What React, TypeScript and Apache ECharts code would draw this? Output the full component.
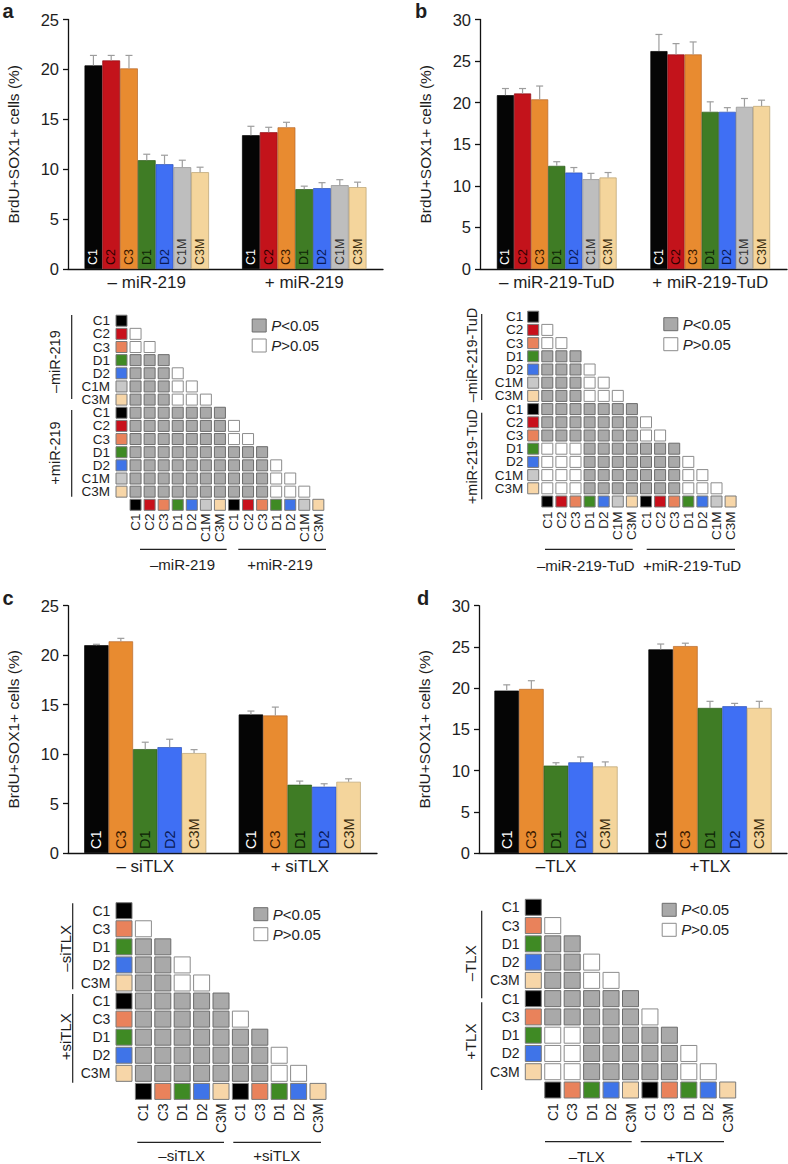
import React, { useEffect, useRef } from 'react';
import * as echarts from 'echarts';

const FONT = '"Liberation Sans", Arial, Helvetica, sans-serif';

// ---------- sample styling ----------
const ALL_SAMPLES = ['C1', 'C2', 'C3', 'D1', 'D2', 'C1M', 'C3M'];
const BAR_COLORS: Record<string, string> = { C1: '#050505', C2: '#c3131b', C3: '#e88b30', D1: '#3f7c25', D2: '#3f6ff4', C1M: '#bebebe', C3M: '#f4d59c' };
const BAR_BORDERS: Record<string, string> = { C1: '#000000', C2: '#8d0c12', C3: '#b8692a', D1: '#2d5a1a', D2: '#2c52b8', C1M: '#8e8e8e', C3M: '#b9a070' };
const BAR_TEXT: Record<string, string> = { C1: '#ffffff', C2: '#2e0000', C3: '#3a1800', D1: '#0d2306', D2: '#0a1a55', C1M: '#333333', C3M: '#3c2e10' };
const SWATCH_COLORS = ['#000000', '#c8101b', '#e9825b', '#3f8a24', '#3f74e8', '#c8c8c8', '#f7d6a8'];

// ---------- panel a ----------
const aSamples = ['C1', 'C2', 'C3', 'D1', 'D2', 'C1M', 'C3M'];
const aGroups = ['– miR-219', '+ miR-219'];
const aMinus = [20.4, 20.9, 20.1, 10.9, 10.5, 10.2, 9.7];
const aMinusErr = [1.0, 0.5, 1.3, 0.6, 0.9, 0.7, 0.5];
const aPlus = [13.4, 13.7, 14.2, 8.0, 8.1, 8.4, 8.2];
const aPlusErr = [0.9, 0.5, 0.5, 0.3, 0.55, 0.55, 0.5];

// ---------- panel b ----------
const bSamples = ['C1', 'C2', 'C3', 'D1', 'D2', 'C1M', 'C3M'];
const bGroups = ['– miR-219-TuD', '+ miR-219-TuD'];
const bMinus = [20.9, 21.1, 20.4, 12.4, 11.6, 10.8, 11.0];
const bMinusErr = [0.8, 0.6, 1.6, 0.5, 0.6, 0.7, 0.6];
const bPlus = [26.2, 25.8, 25.8, 18.9, 18.9, 19.5, 19.6];
const bPlusErr = [2.0, 1.3, 1.5, 1.2, 0.5, 1.0, 0.7];

// ---------- panel c ----------
const cSamples = ['C1', 'C3', 'D1', 'D2', 'C3M'];
const cGroups = ['– siTLX', '+ siTLX'];
const cMinus = [21.0, 21.4, 10.5, 10.7, 10.1];
const cMinusErr = [0.1, 0.3, 0.7, 0.8, 0.35];
const cPlus = [14.0, 13.9, 6.9, 6.7, 7.2];
const cPlusErr = [0.35, 0.85, 0.37, 0.3, 0.3];

// ---------- panel d ----------
const dSamples = ['C1', 'C3', 'D1', 'D2', 'C3M'];
const dGroups = ['–TLX', '+TLX'];
const dMinus = [19.7, 19.9, 10.6, 11.0, 10.5];
const dMinusErr = [0.7, 1.0, 0.35, 0.65, 0.55];
const dPlus = [24.7, 25.1, 17.6, 17.8, 17.6];
const dPlusErr = [0.65, 0.35, 0.8, 0.35, 0.8];

// ---------- significance matrices (1 = P<0.05, 0 = P>0.05) ----------
const abLabels = ['C1', 'C2', 'C3', 'D1', 'D2', 'C1M', 'C3M', 'C1', 'C2', 'C3', 'D1', 'D2', 'C1M', 'C3M'];
const aSig = [
  [],
  [0],
  [0, 0],
  [1, 1, 1],
  [1, 1, 1, 0],
  [1, 1, 1, 0, 0],
  [1, 1, 1, 0, 0, 0],
  [1, 1, 1, 1, 1, 1, 1],
  [1, 1, 1, 1, 1, 1, 1, 0],
  [1, 1, 1, 1, 1, 1, 1, 0, 0],
  [1, 1, 1, 1, 1, 1, 1, 1, 1, 1],
  [1, 1, 1, 1, 1, 1, 1, 1, 1, 1, 0],
  [1, 1, 1, 1, 1, 1, 1, 1, 1, 1, 0, 0],
  [1, 1, 1, 1, 1, 1, 1, 1, 1, 1, 0, 0, 0],
];
const bSig = [
  [],
  [0],
  [0, 0],
  [1, 1, 1],
  [1, 1, 1, 0],
  [1, 1, 1, 0, 0],
  [1, 1, 1, 0, 0, 0],
  [1, 1, 1, 1, 1, 1, 1],
  [1, 1, 1, 1, 1, 1, 1, 0],
  [1, 1, 1, 1, 1, 1, 1, 0, 0],
  [0, 0, 0, 1, 1, 1, 1, 1, 1, 1],
  [0, 0, 0, 1, 1, 1, 1, 1, 1, 1, 0],
  [0, 0, 0, 1, 1, 1, 1, 1, 1, 1, 0, 0],
  [0, 0, 0, 1, 1, 1, 1, 1, 1, 1, 0, 0, 0],
];
const cdLabels = ['C1', 'C3', 'D1', 'D2', 'C3M', 'C1', 'C3', 'D1', 'D2', 'C3M'];
const cSig = [
  [],
  [0],
  [1, 1],
  [1, 1, 0],
  [1, 1, 0, 0],
  [1, 1, 1, 1, 1],
  [1, 1, 1, 1, 1, 0],
  [1, 1, 1, 1, 1, 1, 1],
  [1, 1, 1, 1, 1, 1, 1, 0],
  [1, 1, 1, 1, 1, 1, 1, 0, 0],
];
const dSig = [
  [],
  [0],
  [1, 1],
  [1, 1, 0],
  [1, 1, 0, 0],
  [1, 1, 1, 1, 1],
  [1, 1, 1, 1, 1, 0],
  [0, 0, 1, 1, 1, 1, 1],
  [0, 0, 1, 1, 1, 1, 1, 0],
  [0, 0, 1, 1, 1, 1, 1, 0, 0],
];

const Y_NAME = 'BrdU+SOX1+ cells (%)';
const TXT = '#1e1e1e';

function barPanel(gi: number, cfg: any) {
  const { left, top, width, height, max, groups, samples, minus, minusErr, plus, plusErr, labelSize, gap } = cfg;
  const n = samples.length;
  const gapFrac = gap / 100;
  const grid = { left, top, width, height };
  const xAxis = {
    type: 'category', gridIndex: gi, data: groups,
    axisLine: { lineStyle: { color: '#111', width: 1.3 } },
    axisTick: { length: 7, lineStyle: { color: '#111', width: 1.3 } },
    axisLabel: { fontSize: 17, color: TXT, margin: 5, fontFamily: FONT },
  };
  const yAxis = {
    type: 'value', gridIndex: gi, min: 0, max, interval: 5,
    axisLine: { show: true, lineStyle: { color: '#111', width: 1.3 } },
    axisTick: { show: true, length: 5, lineStyle: { color: '#111', width: 1.3 } },
    splitLine: { show: false },
    axisLabel: { fontSize: 16.5, color: TXT, margin: 9, fontFamily: FONT },
    name: Y_NAME, nameLocation: 'middle', nameGap: 47,
    nameTextStyle: { fontSize: 15.5, color: TXT, fontFamily: FONT },
  };
  const series: any[] = samples.map((s: string, k: number) => ({
    type: 'bar', name: s, xAxisIndex: gi, yAxisIndex: gi,
    data: [minus[k], plus[k]],
    barGap: '0%', barCategoryGap: gap + '%',
    itemStyle: { color: BAR_COLORS[s], borderColor: BAR_BORDERS[s], borderWidth: 0.7 },
    label: {
      show: true, position: 'insideBottom', rotate: 90, align: 'left', verticalAlign: 'middle',
      distance: 4, formatter: s, color: BAR_TEXT[s], fontSize: labelSize, fontFamily: FONT,
    },
  }));
  const errData: number[][] = [];
  samples.forEach((_s: string, k: number) => {
    errData.push([0, minus[k], minusErr[k], k]);
    errData.push([1, plus[k], plusErr[k], k]);
  });
  series.push({
    type: 'custom', name: 'err' + gi, xAxisIndex: gi, yAxisIndex: gi, z: 5,
    data: errData,
    renderItem: (_p: any, api: any) => {
      const cat = api.value(0), mean = api.value(1), err = api.value(2), k = api.value(3);
      const p0 = api.coord([cat, mean]);
      const p1 = api.coord([cat, mean + err]);
      const band = api.size([1, 0])[0];
      const gw = band * (1 - gapFrac);
      const bw = gw / n;
      const x = p0[0] - gw / 2 + (k + 0.5) * bw;
      const st = { stroke: '#9d9d9d', lineWidth: 1.2 };
      return {
        type: 'group', children: [
          { type: 'line', shape: { x1: x, y1: p0[1], x2: x, y2: p1[1] }, style: st },
          { type: 'line', shape: { x1: x - 3.5, y1: p1[1], x2: x + 3.5, y2: p1[1] }, style: st },
        ],
      };
    },
  });
  return { grid, xAxis, yAxis, series };
}

function matrixPanel(gi: number, cfg: any) {
  const { labels, sig, cx0, px, cy0, py, cell, xMargin, yMargin, fontSize } = cfg;
  const N = labels.length;
  const grid = { left: cx0 - px / 2, top: cy0 - py / 2, width: (N + 1) * px, height: (N + 1) * py };
  const xAxis = {
    type: 'category', gridIndex: gi, data: ['', ...labels],
    axisLine: { show: false }, axisTick: { show: false }, splitLine: { show: false },
    axisLabel: { interval: 0, rotate: 90, margin: xMargin, fontSize, color: TXT, fontFamily: FONT },
  };
  const yAxis = {
    type: 'category', gridIndex: gi, inverse: true, data: [...labels, ''],
    axisLine: { show: false }, axisTick: { show: false }, splitLine: { show: false },
    axisLabel: { interval: 0, margin: yMargin, fontSize, color: TXT, fontFamily: FONT },
  };
  const grey: number[][] = [];
  const white: number[][] = [];
  sig.forEach((row: number[], r: number) => row.forEach((v, c) => (v ? grey : white).push([c + 1, r])));
  const sw: number[][] = [];
  labels.forEach((l: string, r: number) => sw.push([0, r, ALL_SAMPLES.indexOf(l)]));
  labels.forEach((l: string, c: number) => sw.push([c + 1, N, ALL_SAMPLES.indexOf(l)]));
  const cellItem = (fill: string | null, stroke: string) => (_p: any, api: any) => {
    const p = api.coord([api.value(0), api.value(1)]);
    const f = fill ?? SWATCH_COLORS[api.value(2)];
    return {
      type: 'rect',
      shape: { x: p[0] - cell / 2, y: p[1] - cell / 2, width: cell, height: cell },
      style: { fill: f, stroke, lineWidth: 1 },
    };
  };
  const series = [
    { type: 'custom', name: 'P<0.05', xAxisIndex: gi, yAxisIndex: gi, data: grey,
      itemStyle: { color: '#a9a9a9' }, renderItem: cellItem('#a9a9a9', '#6c6c6c') },
    { type: 'custom', name: 'P>0.05', xAxisIndex: gi, yAxisIndex: gi, data: white,
      itemStyle: { color: '#ffffff' }, renderItem: cellItem('#ffffff', '#8c8c8c') },
    { type: 'custom', name: 'swatch' + gi, xAxisIndex: gi, yAxisIndex: gi, data: sw,
      renderItem: cellItem(null, '#7a7a7a') },
  ];
  return { grid, xAxis, yAxis, series };
}

function legendAt(left: number, top: number) {
  return {
    left, top, orient: 'vertical', padding: 0, itemGap: 5, itemWidth: 14, itemHeight: 13,
    icon: 'rect', selectedMode: false,
    data: [
      { name: 'P<0.05', itemStyle: { color: '#a9a9a9', borderColor: '#6c6c6c', borderWidth: 1 } },
      { name: 'P>0.05', itemStyle: { color: '#ffffff', borderColor: '#8c8c8c', borderWidth: 1 } },
    ],
    formatter: (name: string) => '{i|P}' + name.slice(1),
    textStyle: {
      fontSize: 15, color: TXT, fontFamily: FONT,
      rich: { i: { fontStyle: 'italic', fontSize: 15, color: TXT, fontFamily: FONT } },
    },
  };
}

function vline(x: number, y1: number, y2: number) {
  return { type: 'line', shape: { x1: x, y1, x2: x, y2 }, style: { stroke: '#222', lineWidth: 1.2 } };
}
function hline(y: number, x1: number, x2: number) {
  return { type: 'line', shape: { x1, y1: y, x2, y2: y }, style: { stroke: '#222', lineWidth: 1.2 } };
}
function txt(text: string, x: number, y: number, size: number, rot = 0, weight = 'normal') {
  return {
    type: 'text', x, y, rotation: rot,
    style: { text, fontSize: size, fontFamily: FONT, fontWeight: weight, fill: TXT, align: 'center', verticalAlign: 'middle' },
  };
}

export default function App() {
  const ref = useRef<HTMLDivElement>(null);
  useEffect(() => {
    document.body.style.margin = '0';
    const chart = echarts.init(ref.current!, null, { renderer: 'svg' });
    const panels = [
      barPanel(0, { left: 68, top: 19.5, width: 315, height: 249.5, max: 25, groups: aGroups, samples: aSamples, minus: aMinus, minusErr: aMinusErr, plus: aPlus, plusErr: aPlusErr, labelSize: 12.5, gap: 21 }),
      barPanel(1, { left: 480, top: 19.5, width: 307, height: 249.5, max: 30, groups: bGroups, samples: bSamples, minus: bMinus, minusErr: bMinusErr, plus: bPlus, plusErr: bPlusErr, labelSize: 12.5, gap: 22 }),
      barPanel(2, { left: 68, top: 605.7, width: 309, height: 247.3, max: 25, groups: cGroups, samples: cSamples, minus: cMinus, minusErr: cMinusErr, plus: cPlus, plusErr: cPlusErr, labelSize: 14.5, gap: 21 }),
      barPanel(3, { left: 479, top: 605.7, width: 308, height: 247.3, max: 30, groups: dGroups, samples: dSamples, minus: dMinus, minusErr: dMinusErr, plus: dPlus, plusErr: dPlusErr, labelSize: 14.5, gap: 20 }),
      matrixPanel(4, { labels: abLabels, sig: aSig, cx0: 121.5, px: 14.06, cy0: 320.7, py: 13.15, cell: 11, xMargin: 2, yMargin: 4.5, fontSize: 13.5 }),
      matrixPanel(5, { labels: abLabels, sig: bSig, cx0: 533.2, px: 14.1, cy0: 316.7, py: 13.2, cell: 11, xMargin: 3.5, yMargin: 3, fontSize: 13.5 }),
      matrixPanel(6, { labels: cdLabels, sig: cSig, cx0: 124, px: 19.4, cy0: 910.7, py: 18.07, cell: 16, xMargin: 3, yMargin: 4, fontSize: 14 }),
      matrixPanel(7, { labels: cdLabels, sig: dSig, cx0: 533.3, px: 19.44, cy0: 907.3, py: 18.27, cell: 16, xMargin: 4, yMargin: 4, fontSize: 14 }),
    ];
    const option: any = {
      animation: false,
      textStyle: { fontFamily: FONT },
      grid: panels.map((p) => p.grid),
      xAxis: panels.map((p) => p.xAxis),
      yAxis: panels.map((p) => p.yAxis),
      series: panels.flatMap((p) => p.series),
      legend: [legendAt(251.7, 318), legendAt(663.3, 316.7), legendAt(253.3, 906.7), legendAt(661.7, 902.3)],
      graphic: [
        txt('a', 8, 11, 20, 0, 'bold'),
        txt('b', 421, 11, 20, 0, 'bold'),
        txt('c', 8, 598, 20, 0, 'bold'),
        txt('d', 423, 598, 20, 0, 'bold'),
        // matrix a brackets
        vline(71.7, 315, 399), vline(71.7, 410, 496.7),
        txt('–miR-219', 55, 361.7, 14.5, Math.PI / 2), txt('+miR-219', 55, 453, 14.5, Math.PI / 2),
        hline(549.3, 140, 226.7), hline(549.3, 238.3, 326),
        txt('–miR-219', 182.5, 564, 15), txt('+miR-219', 280, 564, 15),
        // matrix b
        vline(481.7, 314, 400), vline(481.7, 412.7, 499.3),
        txt('–miR-219-TuD', 471.5, 355, 14.5, Math.PI / 2), txt('+miR-219-TuD', 471.5, 456.7, 14.5, Math.PI / 2),
        hline(549.3, 545, 632.7), hline(549.3, 646.7, 735),
        txt('–miR-219-TuD', 585.8, 565.7, 15), txt('+miR-219-TuD', 692, 565.7, 15),
        // matrix c
        vline(72.7, 903.3, 989.3), vline(72.7, 994, 1082.7),
        txt('–siTLX', 65, 948.3, 15, Math.PI / 2), txt('+siTLX', 65, 1036.7, 15, Math.PI / 2),
        hline(1142.3, 137.3, 224), hline(1142.3, 233.3, 321),
        txt('–siTLX', 181.7, 1155, 15), txt('+siTLX', 276.7, 1155, 15),
        // matrix d
        vline(481.7, 910.7, 998.3), vline(481.7, 1002.3, 1090),
        txt('–TLX', 470, 963.3, 15, Math.PI / 2), txt('+TLX', 470, 1041.7, 15, Math.PI / 2),
        hline(1141.7, 545, 631.7), hline(1141.7, 640.7, 724),
        txt('–TLX', 586.7, 1156.7, 15), txt('+TLX', 685, 1156.7, 15),
      ],
    };
    chart.setOption(option);
    return () => chart.dispose();
  }, []);
  return <div ref={ref} style={{ width: 788, height: 1164 }} />;
}
